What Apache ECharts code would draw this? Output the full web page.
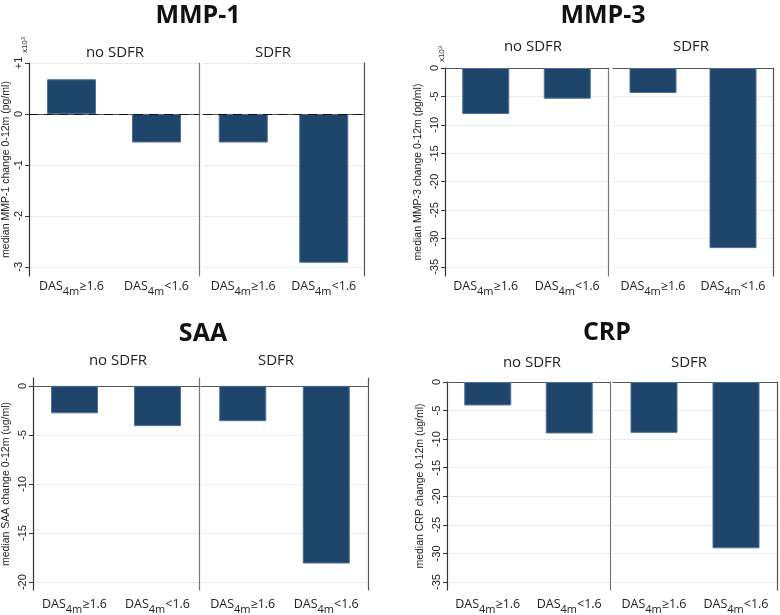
<!DOCTYPE html>
<html>
<head>
<meta charset="utf-8">
<title>MMP-1, MMP-3, SAA, CRP</title>
<script src="https://cdn.jsdelivr.net/npm/echarts@6/dist/echarts.min.js"></script>
<style>
  html, body { margin: 0; padding: 0; background: #fff; }
  #chart { width: 780px; height: 615px; }
</style>
</head>
<body>
<div id="chart"></div>
<script>
// categories and groups
var categories = ['DAS4m≥1.6', 'DAS4m<1.6'];
var groups = ['no SDFR', 'SDFR'];

// median change 0-12m
var mmp1NoSdfr = [680, -560];      // pg/ml
var mmp1Sdfr = [-560, -2920];
var mmp3NoSdfr = [-8100, -5400];   // pg/ml
var mmp3Sdfr = [-4400, -31700];
var saaNoSdfr = [-2.8, -4.1];      // ug/ml
var saaSdfr = [-3.6, -18.1];
var crpNoSdfr = [-4.1, -9.0];      // ug/ml
var crpSdfr = [-8.9, -29.1];

// tick values
var mmp1Ticks = [1000, 0, -1000, -2000, -3000];
var mmp3Ticks = [0, -5000, -10000, -15000, -20000, -25000, -30000, -35000];
var saaTicks = [0, -5, -10, -15, -20];
var crpTicks = [0, -5, -10, -15, -20, -25, -30, -35];

var thousands = function (v) { return v > 0 ? '+' + v / 1000 : String(v / 1000); };
var plain = function (v) { return String(v); };

// layout of the four panels (grid rects are [left, top, width, height])
var panels = [
  { title: 'MMP-1', tpos: [198, 16], subs: [[115, 53], [273, 53]],
    name: 'median MMP-1 change 0-12m (pg/ml)', nameGap: 17,
    grids: [[28, 63, 171, 213], [203, 63, 161, 213]],
    min: -3180, max: 1000, ticks: mmp1Ticks, fmt: thousands,
    data: [mmp1NoSdfr, mmp1Sdfr], zero: true, barW: 49, xpow: [25, 45], lblMargin: 4 },
  { title: 'MMP-3', tpos: [603, 16], subs: [[533, 47], [691, 47]],
    name: 'median MMP-3 change 0-12m (pg/ml)', nameGap: 21,
    grids: [[445, 68, 163, 208], [613, 68, 160, 208]],
    min: -36600, max: 0, ticks: mmp3Ticks, fmt: thousands,
    data: [mmp3NoSdfr, mmp3Sdfr], zero: false, barW: 47, xpow: [442, 54], lblMargin: 4 },
  { title: 'SAA', tpos: [203, 334], subs: [[118, 361], [276, 361]],
    name: 'median SAA change 0-12m (ug/ml)', nameGap: 21,
    grids: [[32, 378, 167, 214], [201, 378, 167, 214]],
    min: -20.8, max: 0.8, ticks: saaTicks, fmt: plain,
    data: [saaNoSdfr, saaSdfr], zero: false, barW: 47, xpow: null, lblMargin: 8 },
  { title: 'CRP', tpos: [607, 333], subs: [[532, 363], [689, 363]],
    name: 'median CRP change 0-12m (ug/ml)', nameGap: 21,
    grids: [[447, 382, 163, 208], [613, 382, 164, 208]],
    min: -36.4, max: 0, ticks: crpTicks, fmt: plain,
    data: [crpNoSdfr, crpSdfr], zero: false, barW: 47, xpow: null, lblMargin: 8 }
];

var barColor = '#1f456b';
var gridLineColor = '#e2eef1';
var axisColor = '#555';

var grid = [], xAxis = [], yAxis = [], series = [], graphic = [];

panels.forEach(function (p) {
  graphic.push({
    type: 'text', x: p.tpos[0], y: p.tpos[1],
    style: { text: p.title, font: 'bold 25px "Open Sans", Lato, sans-serif', fill: '#111',
             textAlign: 'center', textVerticalAlign: 'middle', align: 'center', verticalAlign: 'middle' }
  });
  p.subs.forEach(function (s, k) {
    graphic.push({
      type: 'text', x: s[0], y: s[1],
      style: { text: groups[k], font: '15px "Open Sans", Lato, sans-serif', fill: '#222',
               textAlign: 'center', textVerticalAlign: 'middle', align: 'center', verticalAlign: 'middle' }
    });
  });
  if (p.xpow) {
    graphic.push({
      type: 'text', x: p.xpow[0], y: p.xpow[1], rotation: Math.PI / 2,
      style: { text: 'x10{sup|3}', font: '8px "Liberation Sans", Arial, sans-serif', fill: '#333',
               textAlign: 'center', textVerticalAlign: 'middle', align: 'center', verticalAlign: 'middle',
               rich: { sup: { fontSize: 6, verticalAlign: 'top', padding: [0, 0, 4, 0] } } }
    });
  }

  p.grids.forEach(function (g, k) {
    var gi = grid.length;
    var first = k === 0;
    grid.push({ left: g[0], top: g[1], width: g[2], height: g[3] });
    xAxis.push({
      type: 'category', gridIndex: gi, data: categories,
      axisLine: { show: true, lineStyle: { color: axisColor, width: 1.2 } },
      axisTick: { show: false },
      axisLabel: {
        margin: p.lblMargin, interval: 0,
        formatter: function (v) { return '{a|DAS}{s|4m}{a|' + v.slice(5) + '}'; },
        rich: {
          a: { fontSize: 12.5, fontFamily: '"Open Sans", sans-serif', color: '#222', lineHeight: 14, verticalAlign: 'top' },
          s: { fontSize: 11, fontFamily: '"Open Sans", sans-serif', color: '#222', lineHeight: 12, verticalAlign: 'top', padding: [6, 0, 0, 0] }
        }
      }
    });
    // main value axis
    yAxis.push({
      type: 'value', gridIndex: gi, min: p.min, max: p.max,
      name: first ? p.name : '', nameLocation: 'middle', nameGap: p.nameGap,
      nameTextStyle: { fontSize: 10.5, fontFamily: '"Liberation Sans", Arial, sans-serif', color: '#222' },
      axisLine: { show: first, lineStyle: { color: '#333', width: 1.2 } },
      axisTick: { show: first, length: 4, customValues: p.ticks, lineStyle: { color: '#333' } },
      axisLabel: { show: first, customValues: p.ticks, rotate: 90, margin: 5, formatter: p.fmt,
                   fontSize: 11, fontFamily: '"Liberation Sans", Arial, sans-serif', color: '#222' },
      splitLine: { show: true, lineStyle: { color: gridLineColor, width: 1 } }
    });
    var ya = yAxis.length - 1;
    // right edge line of each panel
    yAxis.push({
      type: 'value', gridIndex: gi, position: 'right', min: p.min, max: p.max,
      axisLine: { show: true, lineStyle: { color: first ? '#777' : '#555', width: 1.2 } },
      axisTick: { show: false }, axisLabel: { show: false }, splitLine: { show: false }
    });
    var s = {
      type: 'bar', xAxisIndex: gi, yAxisIndex: ya, data: p.data[k],
      barWidth: p.barW,
      itemStyle: { color: barColor, borderColor: '#4d7093', borderWidth: 1 }
    };
    if (p.zero) {
      s.markLine = {
        silent: true, symbol: 'none', label: { show: false },
        lineStyle: { color: '#111', type: [9, 6], width: 1.2 },
        data: [{ yAxis: 0 }]
      };
    }
    series.push(s);
  });
});

var chart = echarts.init(document.getElementById('chart'));
chart.setOption({
  animation: false,
  backgroundColor: '#fff',
  grid: grid,
  xAxis: xAxis,
  yAxis: yAxis,
  series: series,
  graphic: graphic
});
</script>
</body>
</html>
